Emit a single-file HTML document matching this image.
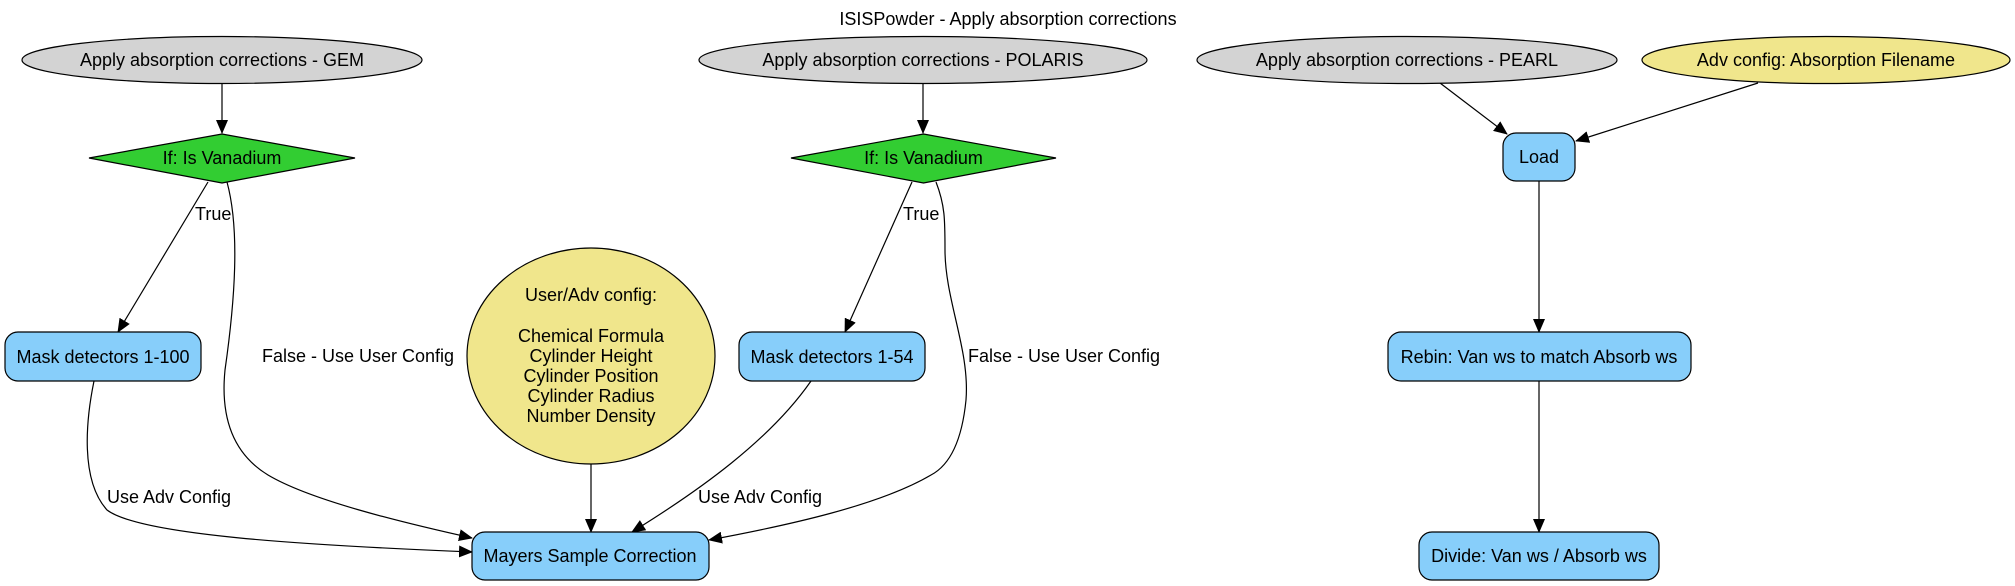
<!DOCTYPE html>
<html><head><meta charset="utf-8"><style>
html,body{margin:0;padding:0;background:#fff;}
svg{display:block;}
text{font-family:"Liberation Sans",Arial,sans-serif;font-size:18px;fill:#000;}
</style></head><body>
<svg width="2015" height="586" viewBox="0 0 2015 586" xmlns="http://www.w3.org/2000/svg">
<defs>
<marker id="a" markerWidth="14" markerHeight="12" refX="13" refY="6" orient="auto" markerUnits="userSpaceOnUse">
<path d="M0,0 L14,6 L0,12 z" fill="#000"/>
</marker>
</defs>
<text x="1008" y="25" text-anchor="middle">ISISPowder - Apply absorption corrections</text>

<g fill="none" stroke="#000" stroke-width="1.2">
<path d="M222,83 L222,133" marker-end="url(#a)"/>
<path d="M208,182 L118,332" marker-end="url(#a)"/>
<path d="M227,182 C240,230 235,300 225,370 C220,420 235,455 268,475 C310,500 400,522 472,538" marker-end="url(#a)"/>
<path d="M94,381 C86,420 80,480 107,510 C140,535 300,545 472,552" marker-end="url(#a)"/>
<path d="M591,464 L591,532" marker-end="url(#a)"/>
<path d="M923,83 L923,133" marker-end="url(#a)"/>
<path d="M912,182 L845,332" marker-end="url(#a)"/>
<path d="M936,182 C945,205 945,220 945,250 C945,300 970,350 966,400 C962,440 950,465 931,475 C880,505 790,525 709,540" marker-end="url(#a)"/>
<path d="M811,381 C770,440 700,490 632,532" marker-end="url(#a)"/>
<path d="M1440,83 L1507,134" marker-end="url(#a)"/>
<path d="M1758,83 L1576,141" marker-end="url(#a)"/>
<path d="M1539,181 L1539,332" marker-end="url(#a)"/>
<path d="M1539,381 L1539,532" marker-end="url(#a)"/>
</g>

<g stroke="#000" stroke-width="1.2">
<ellipse cx="222" cy="60" rx="200" ry="23.5" fill="#d3d3d3"/>
<ellipse cx="923" cy="60" rx="224" ry="23.5" fill="#d3d3d3"/>
<ellipse cx="1407" cy="60" rx="210" ry="23.5" fill="#d3d3d3"/>
<ellipse cx="1826" cy="60" rx="184" ry="23.5" fill="#f0e68c"/>
<polygon points="89,158 222,134 355,158 222,183" fill="#32cd32"/>
<polygon points="791,158 923.5,134 1056,158 923.5,183" fill="#32cd32"/>
<rect x="5" y="332" width="196" height="49" rx="13" fill="#87cefa"/>
<rect x="739" y="332" width="186" height="49" rx="13" fill="#87cefa"/>
<rect x="472" y="532" width="237" height="48" rx="13" fill="#87cefa"/>
<ellipse cx="591" cy="356" rx="124" ry="108" fill="#f0e68c"/>
<rect x="1503" y="133" width="72" height="48" rx="13" fill="#87cefa"/>
<rect x="1388" y="332" width="303" height="49" rx="13" fill="#87cefa"/>
<rect x="1419" y="532" width="240" height="48" rx="13" fill="#87cefa"/>
</g>

<g text-anchor="middle">
<text x="222" y="66">Apply absorption corrections - GEM</text>
<text x="923" y="66">Apply absorption corrections - POLARIS</text>
<text x="1407" y="66">Apply absorption corrections - PEARL</text>
<text x="1826" y="66">Adv config: Absorption Filename</text>
<text x="222" y="164">If: Is Vanadium</text>
<text x="923.5" y="164">If: Is Vanadium</text>
<text x="103" y="363">Mask detectors 1-100</text>
<text x="832" y="363">Mask detectors 1-54</text>
<text x="590" y="562">Mayers Sample Correction</text>
<text x="1539" y="163">Load</text>
<text x="1539" y="363">Rebin: Van ws to match Absorb ws</text>
<text x="1539" y="562">Divide: Van ws / Absorb ws</text>
<text x="591" y="301">User/Adv config:</text>
<text x="591" y="342">Chemical Formula</text>
<text x="591" y="362">Cylinder Height</text>
<text x="591" y="382">Cylinder Position</text>
<text x="591" y="402">Cylinder Radius</text>
<text x="591" y="422">Number Density</text>
</g>
<g>
<text x="195" y="220">True</text>
<text x="262" y="362">False - Use User Config</text>
<text x="107" y="503">Use Adv Config</text>
<text x="903" y="220">True</text>
<text x="968" y="362">False - Use User Config</text>
<text x="698" y="503">Use Adv Config</text>
</g>
</svg>
</body></html>
